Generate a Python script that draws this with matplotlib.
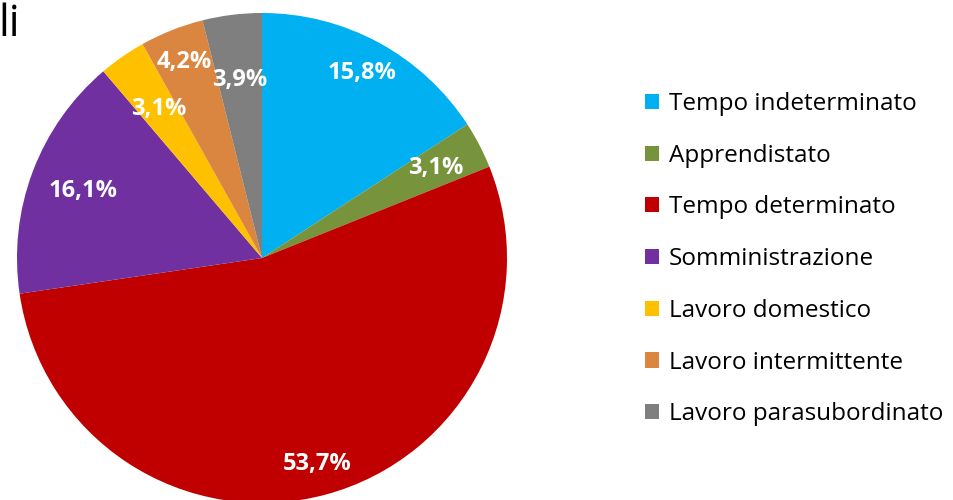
import matplotlib
matplotlib.use('Agg')
import numpy as np
import matplotlib.pyplot as plt
from matplotlib.patches import Patch

categories = ['Tempo indeterminato', 'Apprendistato', 'Tempo determinato',
              'Somministrazione', 'Lavoro domestico', 'Lavoro intermittente',
              'Lavoro parasubordinato']
values = [15.8, 3.1, 53.7, 16.1, 3.1, 4.2, 3.9]
value_labels = ['15,8%', '3,1%', '53,7%', '16,1%', '3,1%', '4,2%', '3,9%']

colors = ['#00B0F0', '#77933C', '#C00000', '#7030A0', '#FFC000', '#DB8640', '#7F7F7F']
# distance of each percentage label from the centre (fraction of radius)
label_r = [0.86, 0.80, 0.87, 0.78, 0.74, 0.86, 0.73]

plt.rcParams['font.family'] = ['Open Sans', 'DejaVu Sans']

fig = plt.figure(figsize=(9.54, 5.0), dpi=100)
ax = fig.add_axes([17 / 954, -3 / 500, 490 / 954, 490 / 500])
wedges, _ = ax.pie(values, colors=colors, startangle=90, counterclock=False,
                   radius=1.0, wedgeprops=dict(linewidth=0))
ax.set_xlim(-1, 1)
ax.set_ylim(-1, 1)
ax.set_aspect('equal')

for w, lab, r in zip(wedges, value_labels, label_r):
    ang = np.deg2rad((w.theta1 + w.theta2) / 2)
    ax.text(r * np.cos(ang), r * np.sin(ang), lab, ha='center', va='center',
            color='white', fontsize=17, fontweight='bold')

handles = [Patch(facecolor=c, edgecolor='none') for c in colors]
fig.legend(handles, categories, loc='upper left', bbox_to_anchor=(645 / 954, 1 - 92 / 500),
           frameon=False, fontsize=17.5, handlelength=0.58, handleheight=0.58,
           handletextpad=0.4, labelspacing=1.14, borderpad=0, borderaxespad=0)

fig.text(-0.002, 1 - 2 / 500, 'li', fontsize=31, va='top', ha='left')

fig.savefig('out.png', dpi=100)
